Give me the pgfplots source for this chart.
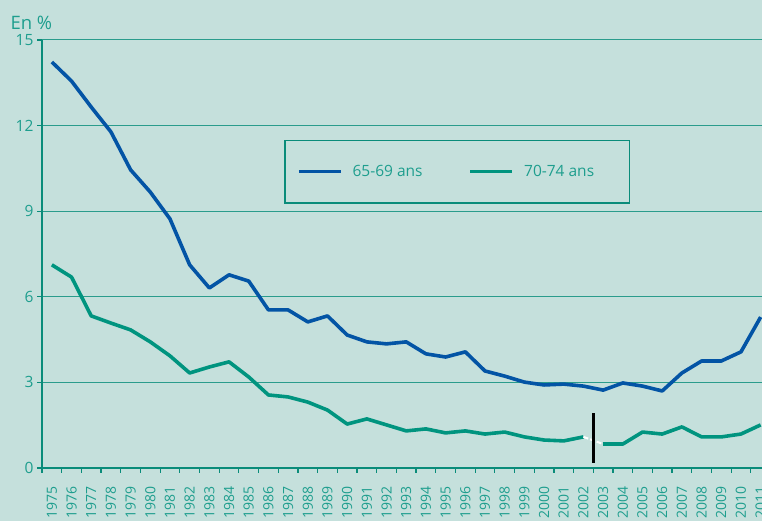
\documentclass[border=0pt]{standalone}
\usepackage{pgfplots}
\pgfplotsset{compat=1.18}
\usepackage{fontspec}
\setmainfont{Open Sans}
\usetikzlibrary{backgrounds}
\definecolor{bg}{HTML}{C5E0DC}
\definecolor{tealtxt}{HTML}{1E9E8E}
\definecolor{tealax}{HTML}{0A8C7A}
\definecolor{gridc}{HTML}{2A9C8C}
\definecolor{blueline}{HTML}{0354A5}
\definecolor{greenline}{HTML}{00947F}
\begin{document}
\begin{tikzpicture}
\begin{axis}[
 at={(0pt,0pt)}, anchor=south west,
 scale only axis, width=728.5pt, height=428pt,
 xmin=1974.5, xmax=2011.5, ymin=0, ymax=15,
 axis x line*=bottom, axis y line*=left,
 axis line style={tealax, line width=1.3pt, -},
 ytick={0,3,...,15}, minor ytick={0,3,...,15},
 xtick={1975,...,2011}, minor xtick={1974.5,1975.5,...,2011.5},
 major tick length=0pt, minor tick length=5pt, tick align=outside,
 tick style={tealax, line width=1.2pt},
 ymajorgrids, grid style={gridc, line width=1pt},
 /pgf/number format/.cd, 1000 sep={}, assume math mode=true, /pgfplots/.cd,
 tick label style={text=tealtxt},
 xticklabel style={font=\fontsize{14}{14}\selectfont, yshift=-15pt, rotate=90, anchor=east},
 yticklabel style={font=\fontsize{15.5}{15.5}\selectfont, xshift=-5pt},
 legend style={at={(axis cs:1995.58,10.39)}, anchor=center, draw=tealax, line width=1.3pt, fill=bg,
   font=\fontsize{15.5}{15.5}\selectfont, text=tealtxt, inner xsep=12pt, inner ysep=23pt,
   nodes={inner xsep=0pt, inner ysep=2pt},
   /tikz/every even column/.append style={column sep=23pt}},
 legend columns=2, legend cell align=left,
 legend image code/.code={\draw[#1, line width=3.6pt] (0pt,0pt) -- (42pt,0pt);},
 clip=false,
]
\addplot[blueline, line width=3.6pt, line join=round] coordinates {
(1975,14.23) (1976,13.56) (1977,12.65) (1978,11.78) (1979,10.45) (1980,9.67) (1981,8.73)
(1982,7.12) (1983,6.31) (1984,6.77) (1985,6.55) (1986,5.54) (1987,5.54) (1988,5.12)
(1989,5.33) (1990,4.66) (1991,4.42) (1992,4.35) (1993,4.42) (1994,4.00) (1995,3.89)
(1996,4.07) (1997,3.40) (1998,3.22) (1999,3.01) (2000,2.91) (2001,2.94) (2002,2.87)
(2003,2.73) (2004,2.98) (2005,2.87) (2006,2.70) (2007,3.33) (2008,3.75) (2009,3.75)
(2010,4.07) (2011,5.29)};
\addlegendentry{\hspace*{10pt}\makebox[93pt][l]{65-69 ans}}
\addplot[greenline, line width=3.6pt, line join=round] coordinates {
(1975,7.12) (1976,6.69) (1977,5.33) (1978,5.08) (1979,4.84) (1980,4.42) (1981,3.93)
(1982,3.33) (1983,3.54) (1984,3.72) (1985,3.19) (1986,2.56) (1987,2.49) (1988,2.31)
(1989,2.03) (1990,1.54) (1991,1.72) (1992,1.51) (1993,1.30) (1994,1.37) (1995,1.23)
(1996,1.30) (1997,1.19) (1998,1.26) (1999,1.09) (2000,0.98) (2001,0.95) (2002,1.09)};
\addlegendentry{\hspace*{10pt}\makebox[93pt][l]{70-74 ans}}
\addplot[greenline, line width=3.6pt, line join=round, forget plot] coordinates {
(2003,0.84) (2004,0.84) (2005,1.26) (2006,1.19) (2007,1.44) (2008,1.09) (2009,1.09)
(2010,1.19) (2011,1.51)};
\addplot[white, line width=2pt, dash pattern=on 5pt off 2pt, forget plot] coordinates {(2002,1.09) (2003,0.84)};
\addplot[black, line width=2.6pt, forget plot] coordinates {(2002.5,0.18) (2002.5,1.93)};
\node[anchor=base west, text=tealtxt, font=\fontsize{18.5}{18.5}\selectfont, xshift=-35pt, yshift=10.5pt] at (rel axis cs:0,1) {En \%};
\end{axis}
\pgfresetboundingbox
\path[use as bounding box] (-42pt,-53pt) rectangle (720pt,468pt);
\begin{pgfonlayer}{background}
\fill[bg] (-42pt,-53pt) rectangle (720pt,468pt);
\end{pgfonlayer}
\end{tikzpicture}
\end{document}
